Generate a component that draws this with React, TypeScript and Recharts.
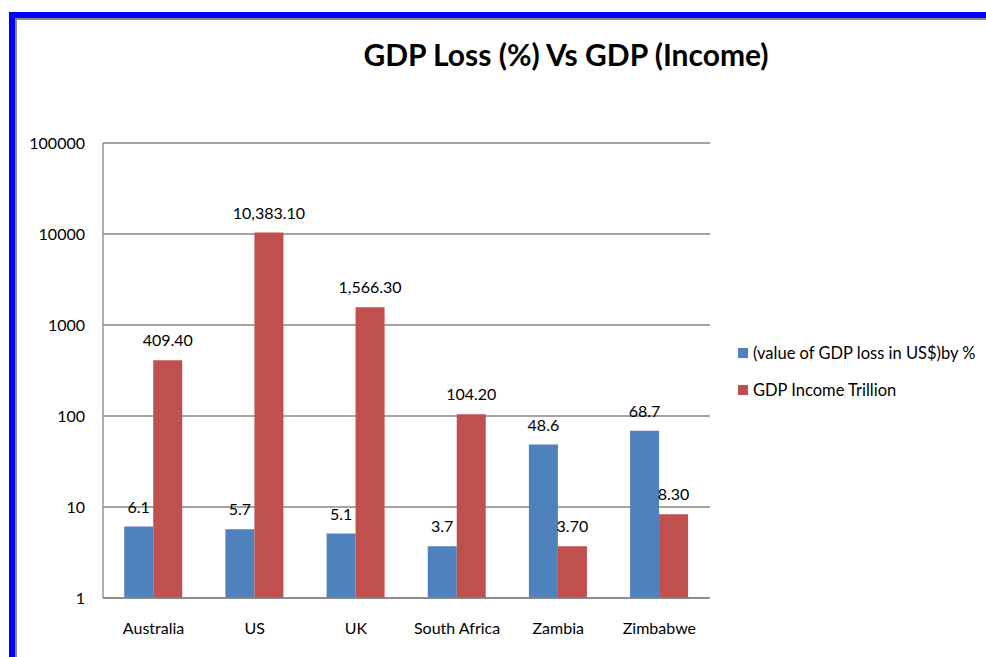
import { BarChart, Bar, XAxis, YAxis, CartesianGrid, LabelList } from 'recharts';

const countries = ['Australia', 'US', 'UK', 'South Africa', 'Zambia', 'Zimbabwe'];
const gdpLossPct = [6.1, 5.7, 5.1, 3.7, 48.6, 68.7];
const gdpIncome = [409.4, 10383.1, 1566.3, 104.2, 3.7, 8.3];
const yTicks = [1, 10, 100, 1000, 10000, 100000];

const lossName = '(value of GDP loss in US$)by %';
const incomeName = 'GDP Income Trillion';

const BLUE = '#4F81BD';
const RED = '#C0504D';
const GRID = '#868686';
const FONT = 'Lato, "Open Sans", sans-serif';

const data = countries.map((c, i) => ({
  country: c,
  loss: gdpLossPct[i],
  income: gdpIncome[i],
}));

const fmtLoss = (v: number) => v.toFixed(1);
const fmtIncome = (v: number) =>
  v.toLocaleString('en-US', { minimumFractionDigits: 2, maximumFractionDigits: 2 });

export default function App() {
  return (
    <div
      style={{
        position: 'absolute',
        left: 0,
        top: 0,
        width: 986,
        height: 657,
        background: '#fff',
        fontFamily: FONT,
        overflow: 'hidden',
      }}
    >
      {/* frame */}
      <div style={{ position: 'absolute', left: 9, top: 12, width: 977, height: 6, background: '#0000FF' }} />
      <div style={{ position: 'absolute', left: 9, top: 12, width: 6, height: 645, background: '#0000FF' }} />
      <div style={{ position: 'absolute', left: 15, top: 18, width: 971, height: 2, background: '#8a8a8a' }} />
      <div style={{ position: 'absolute', left: 15, top: 18, width: 2, height: 639, background: '#8a8a8a' }} />

      <div
        style={{
          position: 'absolute',
          left: 0,
          width: 1132,
          top: 36,
          textAlign: 'center',
          fontSize: 30,
          fontWeight: 700,
          color: '#000',
        }}
      >
        GDP Loss (%) Vs GDP (Income)
      </div>

      <div style={{ position: 'absolute', left: 0, top: 0 }}>
        <BarChart
          width={986}
          height={657}
          data={data}
          margin={{ top: 143, right: 276, bottom: 29, left: 43 }}
          barCategoryGap="21%"
          barGap={0}
        >
          <CartesianGrid vertical={false} stroke={GRID} strokeWidth={1.3} />
          <XAxis
            dataKey="country"
            height={30}
            tickLine={false}
            axisLine={{ stroke: GRID, strokeWidth: 1.3 }}
            tick={{ fill: '#000', fontSize: 16, fontFamily: FONT }}
            tickMargin={19}
            interval={0}
          />
          <YAxis
            scale="log"
            domain={[1, 100000]}
            ticks={yTicks}
            allowDataOverflow
            width={60}
            tickLine={false}
            axisLine={{ stroke: GRID, strokeWidth: 1.3 }}
            tick={{ fill: '#000', fontSize: 16, fontFamily: FONT }}
            tickMargin={12}
          />
          <Bar dataKey="loss" name={lossName} fill={BLUE} isAnimationActive={false}>
            <LabelList
              dataKey="loss"
              position="top"
              offset={14}
              formatter={(v: any) => fmtLoss(Number(v))}
              style={{ fill: '#000', fontSize: 16, fontFamily: FONT }}
            />
          </Bar>
          <Bar dataKey="income" name={incomeName} fill={RED} isAnimationActive={false}>
            <LabelList
              dataKey="income"
              position="top"
              offset={14}
              formatter={(v: any) => fmtIncome(Number(v))}
              style={{ fill: '#000', fontSize: 16, fontFamily: FONT }}
            />
          </Bar>
        </BarChart>
      </div>

      {/* legend */}
      <div style={{ position: 'absolute', left: 738, top: 334, fontSize: 16.5, color: '#000' }}>
        {[
          { name: lossName, color: BLUE },
          { name: incomeName, color: RED },
        ].map((it) => (
          <div key={it.name} style={{ display: 'flex', alignItems: 'center', height: 37 }}>
            <span style={{ display: 'inline-block', width: 10, height: 10, background: it.color, marginRight: 5 }} />
            <span>{it.name}</span>
          </div>
        ))}
      </div>
    </div>
  );
}
